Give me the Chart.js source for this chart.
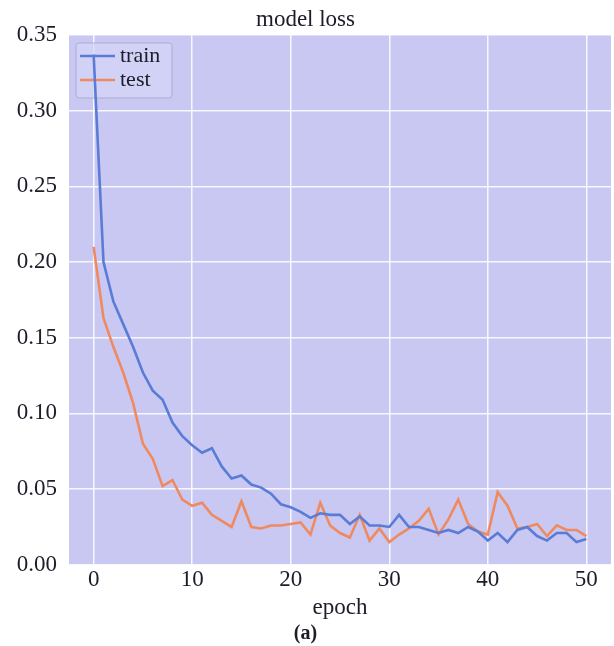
<!DOCTYPE html>
<html>
<head>
<meta charset="utf-8">
<script src="https://cdn.jsdelivr.net/npm/chart.js@4.4.0/dist/chart.umd.min.js"></script>
<style>
  html, body { margin: 0; padding: 0; background: #fff; }
  #wrap { width: 614px; height: 646px; }
</style>
</head>
<body>
<div id="wrap"><canvas id="lossChart" width="614" height="646"></canvas></div>
<script>
const epochs = [0, 1, 2, 3, 4, 5, 6, 7, 8, 9, 10, 11, 12, 13, 14, 15, 16, 17, 18, 19, 20,
  21, 22, 23, 24, 25, 26, 27, 28, 29, 30, 31, 32, 33, 34, 35, 36, 37, 38, 39, 40,
  41, 42, 43, 44, 45, 46, 47, 48, 49, 50];

const trainLoss = [0.337, 0.200, 0.174, 0.159, 0.144, 0.127, 0.115, 0.109, 0.094, 0.085, 0.079,
  0.074, 0.077, 0.065, 0.057, 0.059, 0.053, 0.051, 0.047, 0.040, 0.038,
  0.035, 0.031, 0.034, 0.033, 0.033, 0.027, 0.032, 0.026, 0.026, 0.025,
  0.033, 0.025, 0.025, 0.023, 0.021, 0.023, 0.021, 0.025, 0.022, 0.016,
  0.021, 0.015, 0.023, 0.025, 0.019, 0.016, 0.021, 0.021, 0.015, 0.017];

const testLoss = [0.210, 0.163, 0.144, 0.127, 0.107, 0.080, 0.070, 0.052, 0.056, 0.043, 0.039,
  0.041, 0.033, 0.029, 0.025, 0.042, 0.025, 0.024, 0.026, 0.026, 0.027,
  0.028, 0.020, 0.041, 0.026, 0.021, 0.018, 0.033, 0.016, 0.024, 0.015,
  0.020, 0.024, 0.029, 0.037, 0.020, 0.030, 0.043, 0.027, 0.022, 0.020,
  0.048, 0.039, 0.024, 0.025, 0.027, 0.019, 0.026, 0.023, 0.023, 0.019];

const xTicks = [0, 10, 20, 30, 40, 50];
const yTicks = [0, 0.05, 0.10, 0.15, 0.20, 0.25, 0.30, 0.35];

const serif = "'Liberation Serif', 'DejaVu Serif', serif";
const textColor = "#1c1c2a";

// lavender plot background
const plotBackground = {
  id: "plotBackground",
  beforeDraw(chart) {
    const { ctx, chartArea: a } = chart;
    ctx.save();
    ctx.fillStyle = "#c8c8f2";
    ctx.fillRect(a.left, a.top, a.right - a.left, a.bottom - a.top);
    ctx.restore();
  },
};

// legend box in the upper left corner, under the lines
const innerLegend = {
  id: "innerLegend",
  beforeDatasetsDraw(chart) {
    const { ctx, chartArea: a } = chart;
    const x = a.left + 7, y = a.top + 8, w = 96, h = 55;
    ctx.save();
    ctx.fillStyle = "rgba(212,212,246,0.8)";
    ctx.strokeStyle = "rgba(170,170,205,0.9)";
    ctx.lineWidth = 1;
    ctx.beginPath();
    ctx.roundRect(x, y, w, h, 3);
    ctx.fill();
    ctx.stroke();
    ctx.font = "22px " + serif;
    ctx.textBaseline = "middle";
    chart.data.datasets.forEach((ds, i) => {
      const ly = y + 13 + i * 24;
      ctx.strokeStyle = ds.borderColor;
      ctx.lineWidth = 2.5;
      ctx.beginPath();
      ctx.moveTo(x + 4, ly);
      ctx.lineTo(x + 39, ly);
      ctx.stroke();
      ctx.fillStyle = textColor;
      ctx.fillText(ds.label, x + 44, ly);
    });
    ctx.restore();
  },
};

const ctx = document.getElementById("lossChart").getContext("2d");
new Chart(ctx, {
  type: "line",
  data: {
    labels: epochs,
    datasets: [
      {
        label: "train",
        data: trainLoss,
        borderColor: "#5a7bd6",
        borderWidth: 2.6,
        pointRadius: 0,
        tension: 0,
      },
      {
        label: "test",
        data: testLoss,
        borderColor: "#ef8a60",
        borderWidth: 2.6,
        pointRadius: 0,
        tension: 0,
      },
    ],
  },
  options: {
    responsive: false,
    animation: false,
    layout: { padding: { left: 0, right: 3, top: 0, bottom: 0 } },
    plugins: {
      legend: { display: false },
      tooltip: { enabled: false },
      title: {
        display: true,
        text: "model loss",
        color: textColor,
        font: { family: serif, size: 23, weight: "normal" },
        padding: { top: 5.7, bottom: 1.7 },
      },
      subtitle: {
        display: true,
        position: "bottom",
        text: "(a)",
        color: textColor,
        font: { family: serif, size: 20, weight: "bold" },
        padding: { top: 0, bottom: 0 },
      },
    },
    scales: {
      x: {
        type: "linear",
        min: -2.5,
        max: 52.5,
        afterBuildTicks: (scale) => {
          scale.ticks = xTicks.map((v) => ({ value: v }));
        },
        grid: { color: "rgba(255,255,255,0.85)", lineWidth: 1.5, drawTicks: false },
        border: { display: false },
        ticks: {
          color: textColor,
          font: { family: serif, size: 23 },
          padding: 1,
          maxRotation: 0,
        },
        title: {
          display: true,
          text: "epoch",
          color: textColor,
          font: { family: serif, size: 23 },
          padding: { top: 0, bottom: 0 },
        },
      },
      y: {
        min: 0,
        max: 0.35,
        afterBuildTicks: (scale) => {
          scale.ticks = yTicks.map((v) => ({ value: v }));
        },
        afterFit: (scale) => {
          scale.width = 69;
        },
        grid: { color: "rgba(255,255,255,0.85)", lineWidth: 1.5, drawTicks: false },
        border: { display: false },
        ticks: {
          color: textColor,
          font: { family: serif, size: 23 },
          padding: 12,
          callback: (v) => Number(v).toFixed(2),
        },
      },
    },
  },
  plugins: [plotBackground, innerLegend],
});
</script>
</body>
</html>
